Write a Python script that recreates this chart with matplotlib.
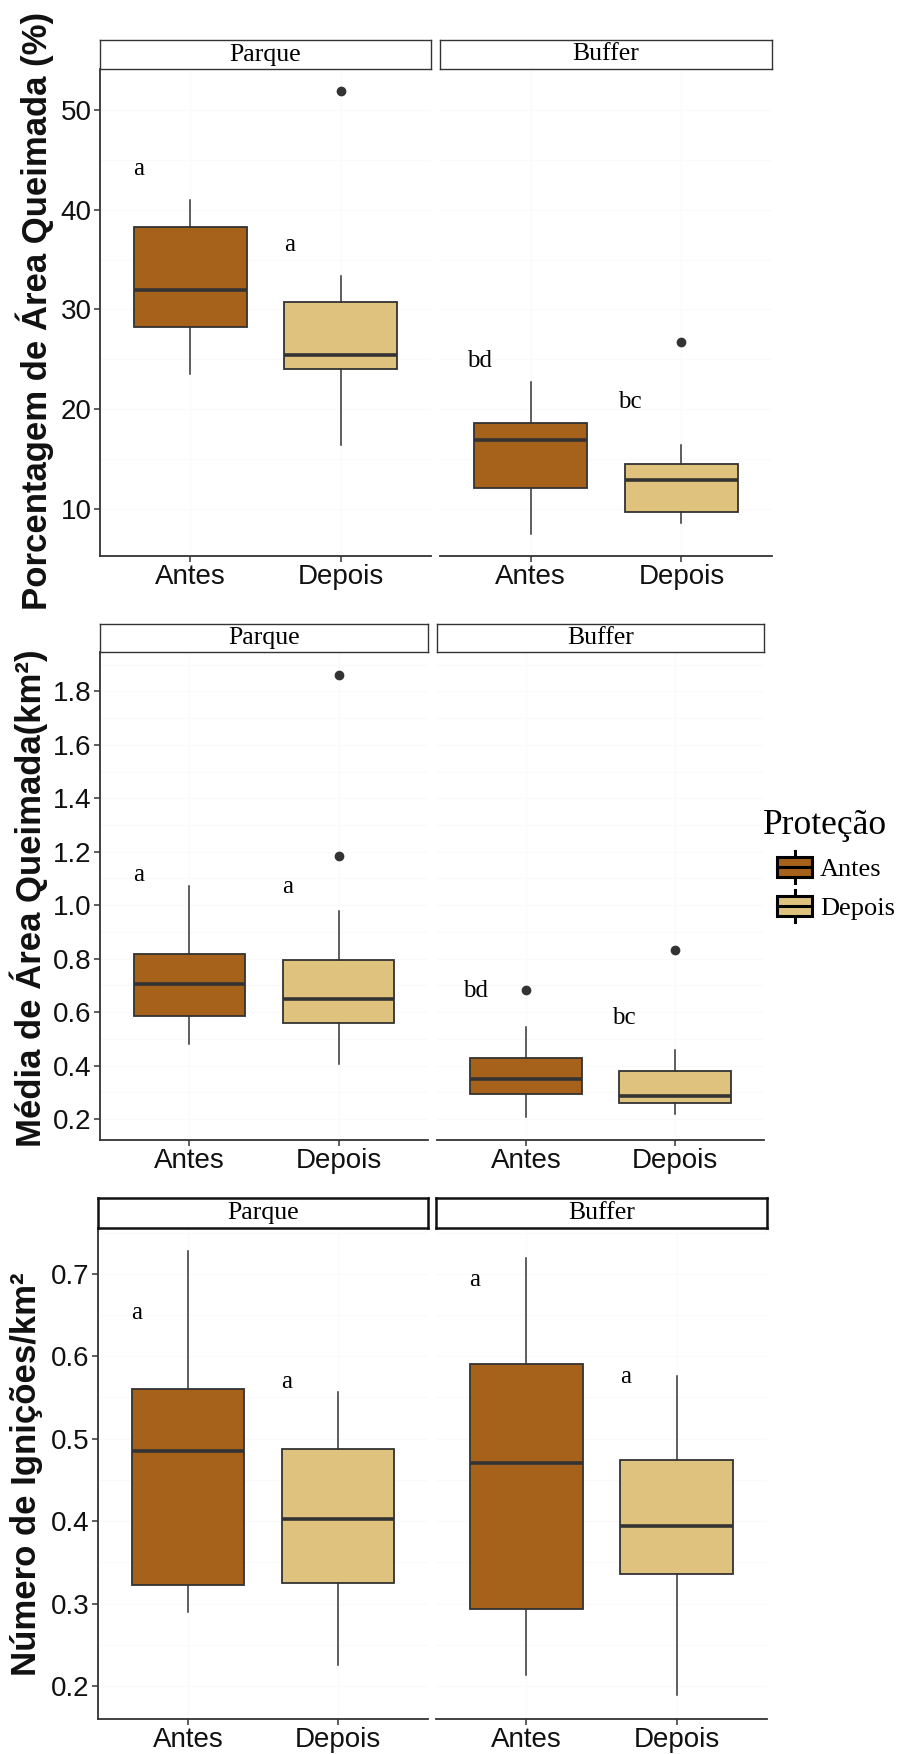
import matplotlib.pyplot as plt
from matplotlib.patches import Rectangle
from matplotlib.lines import Line2D
from matplotlib.legend_handler import HandlerBase
from matplotlib.ticker import MultipleLocator, FormatStrFormatter

plt.rcParams["font.family"] = "Liberation Sans"
plt.rcParams["figure.dpi"] = 100

W, H = 900, 1754

groups = ["Antes", "Depois"]
facets = ["Parque", "Buffer"]
fill_colors = ["#A6611A", "#DFC27D"]

# box order: Parque-Antes, Parque-Depois, Buffer-Antes, Buffer-Depois
pct_low = [23.5, 16.4, 7.5, 8.6]
pct_q1 = [28.2, 24.0, 12.1, 9.7]
pct_med = [31.9, 25.4, 16.9, 12.9]
pct_q3 = [38.3, 30.7, 18.6, 14.5]
pct_high = [41.0, 33.3, 22.7, 16.4]
pct_out = [[], [51.9], [], [26.7]]
pct_letters = ["a", "a", "bd", "bc"]
pct_letter_y = [44.1, 36.5, 24.8, 20.7]

area_low = [0.48, 0.407, 0.207, 0.22]
area_q1 = [0.585, 0.56, 0.293, 0.26]
area_med = [0.706, 0.651, 0.351, 0.287]
area_q3 = [0.816, 0.796, 0.429, 0.38]
area_high = [1.071, 0.978, 0.543, 0.457]
area_out = [[], [1.861, 1.184], [0.683], [0.834]]
area_letters = ["a", "a", "bd", "bc"]
area_letter_y = [1.114, 1.067, 0.68, 0.577]

ign_low = [0.29, 0.225, 0.213, 0.189]
ign_q1 = [0.323, 0.325, 0.293, 0.336]
ign_med = [0.485, 0.402, 0.47, 0.394]
ign_q3 = [0.56, 0.487, 0.59, 0.474]
ign_high = [0.728, 0.557, 0.719, 0.576]
ign_out = [[], [], [], []]
ign_letters = ["a", "a", "a", "a"]
ign_letter_y = [0.652, 0.569, 0.693, 0.575]

rows = [
    dict(label="Porcentagem de Área Queimada (%)",
         stats=(pct_low, pct_q1, pct_med, pct_q3, pct_high, pct_out),
         letters=pct_letters, letter_y=pct_letter_y,
         ylim=(5.28, 54.1), major=10, minor=5, fmt="%d",
         strip_y=(40, 69), axes_y=(69, 556), xs=[(100, 431), (440, 772)],
         label_xy=(35, 311), strip_lw=1.0),
    dict(label="Média de Área Queimada(km²)",
         stats=(area_low, area_q1, area_med, area_q3, area_high, area_out),
         letters=area_letters, letter_y=area_letter_y,
         ylim=(0.122, 1.947), major=0.2, minor=0.1, fmt="%.1f",
         strip_y=(624, 652), axes_y=(652, 1140), xs=[(100, 428), (437, 764)],
         label_xy=(29, 898), strip_lw=1.0),
    dict(label="Número de Ignições/km²",
         stats=(ign_low, ign_q1, ign_med, ign_q3, ign_high, ign_out),
         letters=ign_letters, letter_y=ign_letter_y,
         ylim=(0.16, 0.7555), major=0.1, minor=0.05, fmt="%.1f",
         strip_y=(1198, 1228), axes_y=(1228, 1719), xs=[(98, 428), (436, 767)],
         label_xy=(27, 1474), strip_lw=1.8),
]


def px_rect(x0, x1, y0, y1):
    return [x0 / W, 1 - y1 / H, (x1 - x0) / W, (y1 - y0) / H]


fig = plt.figure(figsize=(W / 100, H / 100))
edge = "#333333"

for row in rows:
    low, q1, med, q3, high, out = row["stats"]
    for j, facet in enumerate(facets):
        x0, x1 = row["xs"][j]
        ax = fig.add_axes(px_rect(x0, x1, *row["axes_y"]))
        stats = []
        for g in range(2):
            k = 2 * j + g
            stats.append(dict(whislo=low[k], q1=q1[k], med=med[k], q3=q3[k],
                              whishi=high[k], fliers=out[k], label=groups[g]))
        bp = ax.bxp(stats, positions=[1, 2], widths=0.75, patch_artist=True,
                    showcaps=False,
                    boxprops=dict(edgecolor=edge, linewidth=1.3),
                    medianprops=dict(color=edge, linewidth=2.6),
                    whiskerprops=dict(color=edge, linewidth=1.1),
                    flierprops=dict(marker="o", markerfacecolor=edge,
                                    markeredgecolor=edge, markersize=6))
        for patch, c in zip(bp["boxes"], fill_colors):
            patch.set_facecolor(c)
        for g in range(2):
            k = 2 * j + g
            ax.text(g + 1 - 0.34, row["letter_y"][k], row["letters"][k],
                    family="Liberation Serif", fontsize=18, ha="center", va="center")

        ax.set_xlim(0.4, 2.6)
        ax.set_ylim(*row["ylim"])
        ax.set_xticks([1, 2])
        ax.set_xticklabels(groups)
        ax.yaxis.set_major_locator(MultipleLocator(row["major"]))
        ax.yaxis.set_minor_locator(MultipleLocator(row["minor"]))
        ax.yaxis.set_major_formatter(FormatStrFormatter(row["fmt"]))
        ax.set_axisbelow(True)
        # barely visible grid, as in the original
        ax.grid(True, which="both", axis="y", color="#fafafa", linewidth=0.8)
        ax.grid(True, which="major", axis="x", color="#fafafa", linewidth=0.8)
        for s in ["top", "right"]:
            ax.spines[s].set_visible(False)
        ax.spines["bottom"].set_color(edge)
        ax.spines["bottom"].set_linewidth(1.3)
        ax.spines["left"].set_color(edge)
        ax.spines["left"].set_linewidth(1.3)
        ax.tick_params(axis="both", which="major", length=4, width=1.1, color=edge,
                       labelsize=20, labelcolor="#111111", pad=2)
        ax.tick_params(axis="y", which="minor", length=0)
        if j == 1:
            ax.spines["left"].set_visible(False)
            ax.tick_params(axis="y", which="both", left=False, labelleft=False)

        # facet strip
        sx = fig.add_axes(px_rect(x0, x1, *row["strip_y"]))
        sx.set_xticks([])
        sx.set_yticks([])
        for s in sx.spines.values():
            s.set_color(edge if row["strip_lw"] < 1.5 else "#111111")
            s.set_linewidth(row["strip_lw"])
        sx.text(0.5, 0.5, facet, transform=sx.transAxes, ha="center", va="center",
                family="Liberation Serif", fontsize=18.5)

    lx, ly = row["label_xy"]
    fig.text(lx / W, 1 - ly / H, row["label"], rotation=90, ha="center", va="center",
             fontsize=25, fontweight="bold", color="#111111")


class BoxKey(HandlerBase):
    def create_artists(self, legend, orig_handle, xdescent, ydescent,
                       width, height, fontsize, trans):
        x0, y0 = -xdescent, -ydescent
        fc = orig_handle.get_facecolor()
        cx = x0 + width / 2
        whisk = Line2D([cx, cx], [y0, y0 + height], color="black", lw=2.2,
                       transform=trans)
        box = Rectangle((x0, y0 + 0.2 * height), width, 0.6 * height, facecolor=fc,
                        edgecolor="black", lw=2.2, transform=trans)
        mid = Line2D([x0, x0 + width], [y0 + height / 2] * 2, color="black", lw=2.2,
                     transform=trans)
        return [whisk, box, mid]


handles = [Rectangle((0, 0), 1, 1, facecolor=c) for c in fill_colors]
fig.text(763 / W, 1 - 834 / H, "Proteção", family="Liberation Serif", fontsize=25.5,
         ha="left", va="baseline")
fig.legend(handles, groups, handler_map={Rectangle: BoxKey()}, loc="upper left",
           bbox_to_anchor=(777 / W, 1 - 851 / H), frameon=False,
           prop=dict(family="Liberation Serif", size=19),
           handlelength=1.33, handleheight=1.5, labelspacing=0.25,
           handletextpad=0.3, borderpad=0, borderaxespad=0)

fig.savefig("out.png", dpi=100)
